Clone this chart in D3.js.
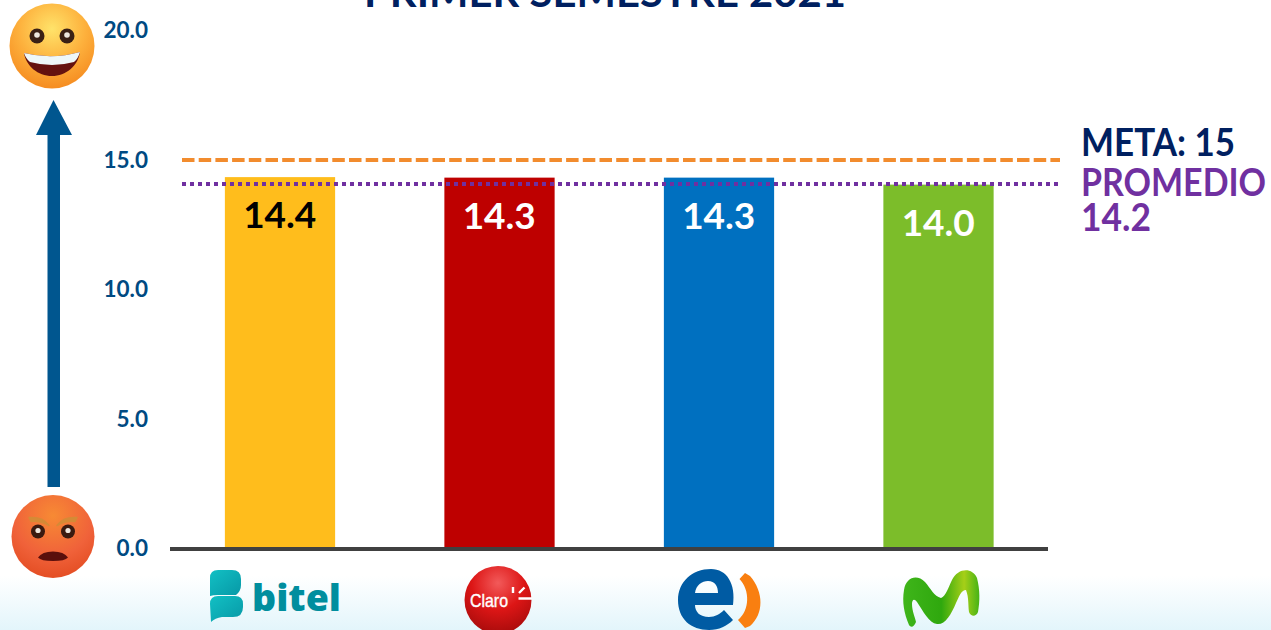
<!DOCTYPE html>
<html><head><meta charset="utf-8">
<script src="https://cdn.jsdelivr.net/npm/d3@7/dist/d3.min.js"></script>
<style>html,body{margin:0;padding:0;background:#fff;overflow:hidden}svg{display:block}</style>
</head><body><svg id="c" width="1271" height="630"></svg>
<script>
const categories=["Bitel","Claro","Entel","Movistar"];
const barValues=[14.32,14.3,14.3,14.03];
const barLabels=["14.4","14.3","14.3","14.0"];
const barColors=["#FFBD1C","#BE0000","#0070C0","#7CBD2A"];
const labelColors=["#000","#fff","#fff","#fff"];
const tickValues=[0,5,10,15,20];
const metaValue=14.98, promedioValue=14.05;
const titleText="PRIMER SEMESTRE 2021";
const font="Lato, 'Open Sans', sans-serif";
const svg=d3.select("#c");
const defs=svg.append("defs");
function grad(id,type,attrs,stops){const g=defs.append(type).attr("id",id);Object.entries(attrs).forEach(([k,v])=>g.attr(k,v));stops.forEach(s=>g.append("stop").attr("offset",s[0]).attr("stop-color",s[1]));}
grad("bg","linearGradient",{x1:0,y1:0,x2:0,y2:1},[[0,"#fff"],[1,"#E3F5FB"]]);
grad("happy","radialGradient",{cx:.5,cy:.3,r:.72},[[0,"#FFE36A"],[.55,"#FDB03C"],[1,"#F58A1F"]]);
grad("angry","radialGradient",{cx:.5,cy:.25,r:.8},[[0,"#F78A34"],[.6,"#F0623A"],[1,"#E24A20"]]);
grad("claro","radialGradient",{cx:.5,cy:.25,r:.78},[[0,"#F25A5A"],[.5,"#DD1616"],[1,"#A50B0B"]]);
grad("bit","linearGradient",{x1:0,y1:0,x2:1,y2:1},[[0,"#12C0C4"],[1,"#0798A6"]]);
grad("mov","linearGradient",{x1:0,y1:0,x2:1,y2:0},[[0,"#3FB51A"],[.5,"#2FA80E"],[.8,"#A6CF18"],[1,"#46B316"]]);

svg.append("rect").attr("x",0).attr("y",576).attr("width",1271).attr("height",54).attr("fill","url(#bg)");

const x=d3.scaleBand().domain(categories).range([170,1048]).paddingInner(.5).paddingOuter(.25);
const y=d3.scaleLinear().domain([0,20]).range([548,30]);

// title
svg.append("text").text(titleText).attr("x",364).attr("y",7)
 .attr("font-family",font).attr("font-weight",700).attr("font-size",40).attr("textLength",482).attr("lengthAdjust","spacingAndGlyphs").attr("fill","#002060");

// bars
svg.selectAll("rect.bar").data(categories).join("rect").attr("class","bar")
 .attr("x",d=>x(d)).attr("width",x.bandwidth()+.5)
 .attr("y",(d,i)=>y(barValues[i])).attr("height",(d,i)=>y(0)-y(barValues[i]))
 .attr("fill",(d,i)=>barColors[i]);
svg.selectAll("text.val").data(categories).join("text").attr("class","val")
 .attr("x",d=>x(d)+x.bandwidth()/2).attr("y",(d,i)=>y(barValues[i])+51)
 .attr("text-anchor","middle").attr("font-family",font).attr("font-weight",700).attr("font-size",37)
 .attr("fill",(d,i)=>labelColors[i]).text((d,i)=>barLabels[i]);

// axes
const yAxis=d3.axisLeft(y).tickValues(tickValues).tickFormat(d3.format(".1f")).tickSize(0).tickPadding(0);
const ga=svg.append("g").attr("transform","translate(148,0)").call(yAxis);
ga.select(".domain").remove();
ga.selectAll("text").attr("font-family",font).attr("font-weight",700).attr("font-size",22.5).attr("fill","#004A82").attr("dy","0.34em");
const xAxis=d3.axisBottom(x).tickSize(0).tickFormat("");
const gx=svg.append("g").attr("transform","translate(0,549)").call(xAxis);
gx.select(".domain").attr("stroke","#404040").attr("stroke-width",4).attr("d","M170,0H1048");

// reference lines
svg.append("line").attr("x1",182).attr("x2",1060).attr("y1",y(metaValue)).attr("y2",y(metaValue))
 .attr("stroke","#F28C2E").attr("stroke-width",4).attr("stroke-dasharray","12.5 4.2");
svg.append("line").attr("x1",182).attr("x2",1060).attr("y1",y(promedioValue)).attr("y2",y(promedioValue))
 .attr("stroke","#7030A0").attr("stroke-width",4).attr("stroke-dasharray","4 4");

// side labels
const side=[["META: 15",1081,156,"#002060",154],["PROMEDIO",1081,196,"#7030A0",185],["14.2",1081,231,"#7030A0",70]];
svg.selectAll("text.side").data(side).join("text").attr("class","side").text(d=>d[0]).attr("x",d=>d[1]).attr("y",d=>d[2])
 .attr("font-family",font).attr("font-weight",700).attr("font-size",38).attr("textLength",d=>d[4]).attr("lengthAdjust","spacingAndGlyphs").attr("fill",d=>d[3]);

// arrow
svg.append("path").attr("d","M47.5,487V135H36L53.5,100L72,135H60V487Z").attr("fill","#00568F");

// happy face
const h=svg.append("g").attr("transform","translate(52,46)");
h.append("circle").attr("r",42.5).attr("fill","url(#happy)");
[[-15,-10],[15,-10]].forEach(p=>{h.append("circle").attr("cx",p[0]).attr("cy",p[1]).attr("r",7.5).attr("fill","#3A2015");h.append("circle").attr("cx",p[0]).attr("cy",p[1]-1).attr("r",2.8).attr("fill","#EDE6DE");});
h.append("path").attr("d","M-28,7Q0,14 28,6C26,20 14,30 0,30C-14,30 -26,20 -28,7Z").attr("fill","#65120F");
h.append("path").attr("d","M-28,7Q0,14 28,6Q26,13 22,16Q0,22 -22,16Q-26,13 -28,7Z").attr("fill","#EEF7F8");

// angry face
const a=svg.append("g").attr("transform","translate(53,536.5)");
a.append("circle").attr("r",41.5).attr("fill","url(#angry)");
a.append("path").attr("d","M-24,-19Q-10,-20 -4,-11Q-13,-16 -22,-15Z M24,-19Q10,-20 4,-11Q13,-16 22,-15Z").attr("fill","#D58A36").attr("stroke","#D58A36").attr("stroke-width",1.5).attr("stroke-linejoin","round");
[[-15,-5],[15,-5]].forEach(p=>{a.append("circle").attr("cx",p[0]).attr("cy",p[1]).attr("r",7).attr("fill","#3A1A10");a.append("circle").attr("cx",p[0]).attr("cy",p[1]-1).attr("r",2.6).attr("fill","#EDE6DE");});
a.append("path").attr("d","M-15,21Q-11,15 0,15Q11,15 15,21Q12,24.5 0,24.5Q-12,24.5 -15,21Z").attr("fill","#5A0F0C");

// Bitel logo
const b=svg.append("g");
b.append("path").attr("d","M210,578Q210,570 218,570H232Q241,570 241,579V585Q241,591 236,595H218Q213,595 210,596Z").attr("fill","url(#bit)");
b.append("path").attr("d","M210,604Q210,596 218,596H235Q243,596 243,604V607Q243,617 233,617H222Q215,618 211,622Z").attr("fill","url(#bit)");
b.append("text").text("bitel").attr("x",252).attr("y",611).attr("font-family","'Open Sans',sans-serif").attr("font-weight",800).attr("font-size",37).attr("textLength",89).attr("lengthAdjust","spacingAndGlyphs").attr("fill","#008E9E");

// Claro logo
svg.append("ellipse").attr("cx",498).attr("cy",600).attr("rx",33.5).attr("ry",34).attr("fill","url(#claro)");
svg.append("text").text("Claro").attr("x",470).attr("y",607).attr("font-family","'Liberation Sans',sans-serif").attr("font-size",19).attr("textLength",38).attr("lengthAdjust","spacingAndGlyphs").attr("fill","#fff").attr("stroke","#fff").attr("stroke-width",.4);
svg.append("path").attr("d","M513,587V593M524.5,587.5L519,593M518.5,598.5H532").attr("stroke","#fff").attr("stroke-width",2.4).attr("fill","none");

// Entel logo
svg.append("path").attr("d","M711,569C692,569 678,582 678,600C678,619 691,630 709,630C719,630 727,626 733,620L724,610C720,614 715,617 709,617C700,617 695,612 695,605H733C736,584 727,569 711,569ZM695,593C696,585 702,581 708,581C715,581 718,586 718,593Z").attr("fill","#005BA3");
svg.append("path").attr("d","M745,573L750,576C764,592 764,614 750,626L745,628L738,620C750,610 750,590 739.5,579Z").attr("fill","#F97F10");

// Movistar logo
svg.append("path").attr("d","M909,625C904,613 902,602 904,590C906,577 917,574 925,582C931,589 934,596 941,598C946,596 948,588 952,580C958,568 972,567 977,578C980,590 980,601 978,612C976,617 971,617 969,612C968,605 969,598 966,590C961,590 959,597 956,603C951,615 945,625 937,624C929,623 923,611 917,602C914,598 912,600 912,604C912,611 915,617 916,622C914,627 911,628 909,625Z").attr("fill","url(#mov)");
</script></body></html>
